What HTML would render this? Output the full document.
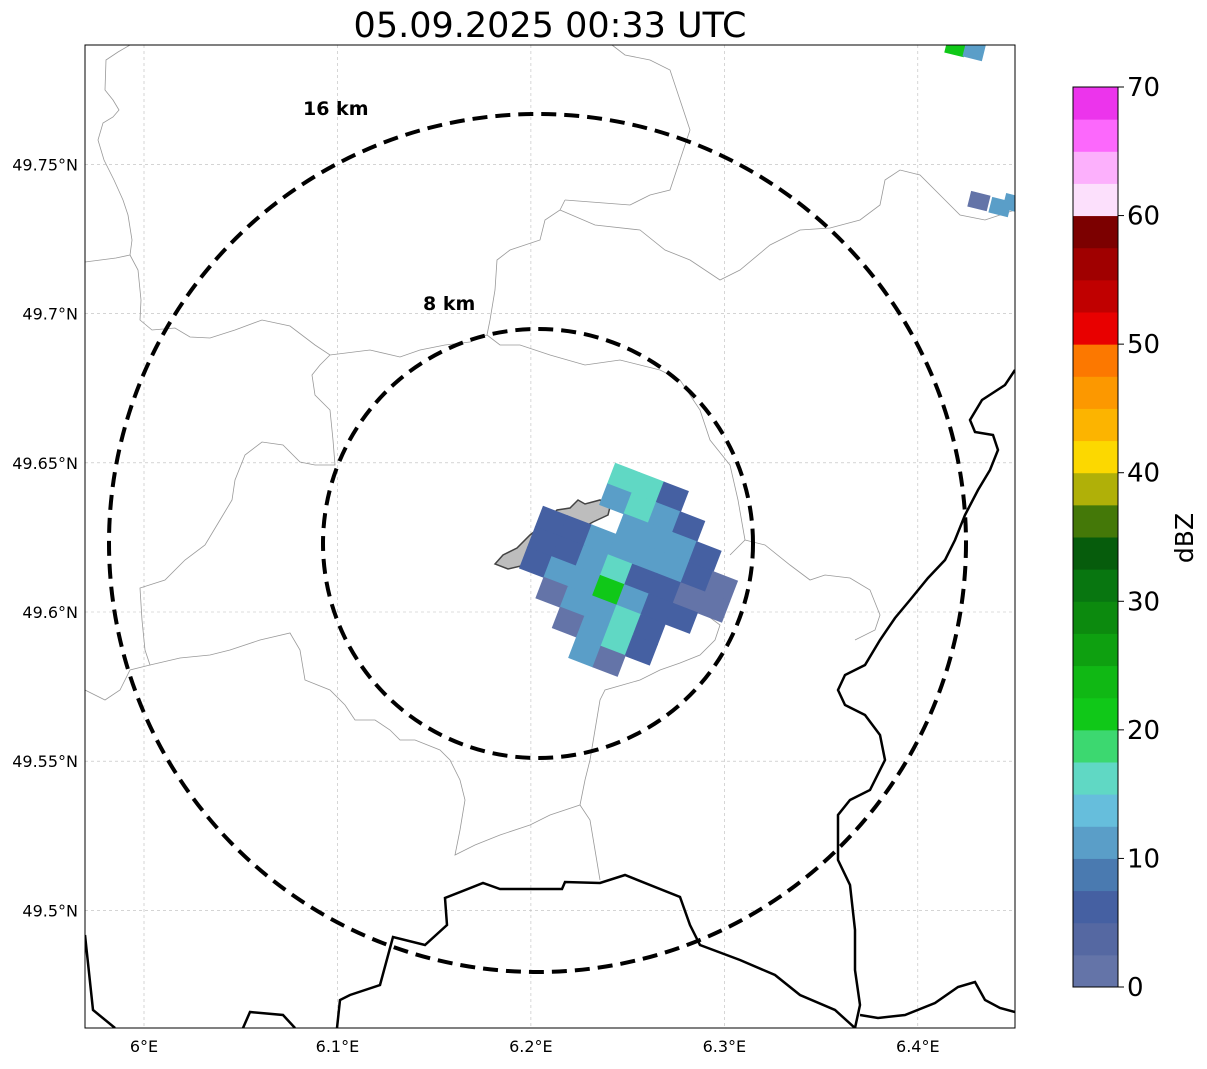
<!DOCTYPE html>
<html><head><meta charset="utf-8"><style>
body{margin:0;background:#fff;}
svg text{font-family:"DejaVu Sans","Liberation Sans",sans-serif;}
</style></head><body>
<svg id="chart" width="1207" height="1064" xmlns="http://www.w3.org/2000/svg">
<text x="550" y="37" font-size="35" text-anchor="middle">05.09.2025 00:33 UTC</text>
<defs><clipPath id="mapclip"><rect x="85" y="45" width="930" height="983"/></clipPath></defs>
<g id="map" clip-path="url(#mapclip)">
  <g id="grid"></g>
  <g fill="none" stroke="#999" stroke-width="0.8">
    <path d="M130,45 L118,52 L106,60 L105,90 L113,100 L119,110 L113,117 L103,123 L98,140 L104,160 L114,180 L123,200 L128,215 L132,240 L130,255 L116,258 L85,262"/>
    <path d="M130,255 L138,270 L141,300 L140,320 L152,330 L175,328 L190,337 L210,338 L235,330 L262,320 L290,326 L315,345 L330,355 L370,350 L400,357 L420,350 L445,345 L470,342 L487,335 L490,320 L495,290 L497,260 L510,250 L540,240 L545,220 L560,210 L565,200"/>
    <path d="M565,200 L630,205 L650,195 L670,190 L680,160 L690,130 L680,100 L670,70 L650,60 L625,55 L612,45"/>
    <path d="M560,210 L595,225 L640,230 L665,250 L690,260 L720,280 L740,270 L770,245 L800,230 L830,228 L860,220 L880,205 L885,180 L900,170 L920,175 L940,195 L960,215 L985,220 L1015,210"/>
    <path d="M330,355 L320,365 L312,375 L315,395 L330,410 L333,440 L335,465 L315,465 L300,462 L283,445 L262,442 L245,455 L235,480 L232,500 L220,520 L205,545 L185,560 L165,580 L140,588 L142,620 L145,650 L150,665 L130,670 L120,690 L105,700 L85,690"/>
    <path d="M487,335 L500,345 L520,345 L550,355 L585,365 L620,360 L660,370 L680,380 L700,410 L710,440 L730,465 L738,500 L745,540 L730,555"/>
    <path d="M745,540 L765,545 L790,565 L810,580 L825,575 L850,578 L870,590 L880,615 L875,630 L855,640"/>
    <path d="M150,665 L180,658 L210,655 L230,650 L260,640 L290,633 L300,650 L305,680 L330,690 L345,705 L355,720 L375,720 L390,730 L400,740 L415,740 L440,750 L450,760 L460,780 L465,800 L460,830 L455,855 L475,845 L500,835 L530,825 L550,815 L580,805 L590,820 L595,850 L600,880"/>
    <path d="M580,805 L585,780 L590,760 L600,700 L605,690 L640,680 L660,670 L680,663 L700,655 L715,640 L720,625 L700,610 L690,605"/>
  </g>
  <g fill="none" stroke="#000" stroke-width="2.5">
    <path d="M85,935 L93,1010 L115,1028"/>
    <path d="M243,1028 L250,1012 L283,1015 L295,1028"/>
    <path d="M337,1028 L340,1000 L350,995 L380,985 L393,937 L425,945 L447,925 L445,898 L483,883 L500,889 L562,889 L565,882 L600,883 L625,875 L680,897 L690,925 L700,945 L740,960 L775,975 L800,995 L835,1010 L855,1028"/>
    <path d="M1015,370 L1005,385 L982,400 L970,420 L975,432 L993,435 L998,450 L990,470 L978,490 L965,515 L955,540 L945,560 L928,578 L910,600 L895,618 L880,640 L865,665 L845,675 L838,690 L845,705 L865,715 L880,735 L885,760 L870,790 L850,800 L838,815 L838,860 L850,885 L855,930 L855,970 L860,1005 L855,1028"/>
    <path d="M860,1015 L878,1018 L905,1015 L935,1003 L958,987 L975,982 L985,1000 L1000,1008 L1015,1012"/>
  </g>
  <path d="M495,564 L503,555 L517,548 L530,535 L543,525 L557,510 L570,508 L578,500 L585,504 L600,500 L610,507 L608,515 L593,522 L575,532 L560,533 L553,548 L551,570 L540,567 L525,565 L508,569 Z" fill="#bdbdbd" stroke="#444" stroke-width="1.5"/>
  <g id="radar"></g>
  <g fill="none" stroke="#000" stroke-width="4" stroke-dasharray="15,8">
    <ellipse cx="537.5" cy="543" rx="428.5" ry="429"/>
    <ellipse cx="538" cy="543.5" rx="215" ry="214.5"/>
  </g>
  <text x="303" y="115" font-size="19" font-weight="bold">16 km</text>
  <text x="423" y="310" font-size="19" font-weight="bold">8 km</text>
</g>
<rect x="85" y="45" width="930" height="983" fill="none" stroke="#000" stroke-width="1"/>
<g id="axes" font-size="16"></g>
<g id="cbar"></g>
<text x="0" y="0" font-size="25" text-anchor="middle" transform="translate(1193,538) rotate(-90)">dBZ</text>
<script>
const NS='http://www.w3.org/2000/svg';
const lonTicks=[6.0,6.1,6.2,6.3,6.4];
const lonLabels=['6°E','6.1°E','6.2°E','6.3°E','6.4°E'];
const latTicks=[49.75,49.70,49.65,49.60,49.55,49.50];
const latLabels=['49.75°N','49.7°N','49.65°N','49.6°N','49.55°N','49.5°N'];
const cbarTicks=[0,10,20,30,40,50,60,70];
const cbarColors=['#6474a8','#5568a2','#4560a2','#4a7ab0','#5a9ec8','#66bedc','#60d8c4','#3cd870','#10c818','#10b814','#0ea010','#0c8a0e','#087610','#065c0c','#447808','#b0b008','#fcd800','#fcb400','#fc9800','#fc7800','#e80000','#c00000','#a00000','#7c0000','#fce0fc','#fcb0fc','#fc68fc','#ec34ec'];
// radar cells near site: grid index along beam (i), across (j), reflectivity dBZ
const cellI=[0,1,2, 0,1,2,3, 1,2,3,4, -2,-1,0,1,2,3,4,5, -2,-1,0,1,2,3,4,5, -2,-1,0,1,2,3,4, -1,0,1,2,3, 0,1,2,3, 1,2];
const cellJ=[-3,-3,-3, -2,-2,-2,-2, -1,-1,-1,-1, 0,0,0,0,0,0,0,0, 1,1,1,1,1,1,1,1, 2,2,2,2,2,2,2, 3,3,3,3,3, 4,4,4,4, 5,5];
const cellV=[17,15,5, 12,17,12,5, 12,10,12,5, 7,5,10,12,10,10,5,2, 5,7,12,15,7,5,2,2, 5,10,10,20,12,5,5, 2,12,12,17,5, 2,10,15,7, 12,2];
// distant echoes (lon, lat, dBZ)
const farLon=[6.4197,6.4291,6.4316,6.4425,6.4497];
const farLat=[49.7893,49.7880,49.7377,49.7357,49.7370];
const farV=[20,10,2,10,12];
const X=lon=>144+(lon-6)*1934.5;
const Y=lat=>612-(lat-49.6)*2984;
const CB=v=>987-v*(900/70);
function mk(tag,attrs,parent){const e=document.createElementNS(NS,tag);for(const k in attrs)e.setAttribute(k,attrs[k]);parent.appendChild(e);return e;}
const grid=document.getElementById('grid'),axes=document.getElementById('axes');
lonTicks.forEach((t,k)=>{
  const l=mk('line',{x1:X(t),x2:X(t),y1:45,y2:1028,stroke:'#bbb','stroke-width':0.6,'stroke-dasharray':'3,3'},grid);
  
  
  const tx=mk('text',{x:X(t),y:1052,'text-anchor':'middle'},axes);tx.textContent=lonLabels[k];
  
  
});
latTicks.forEach((t,k)=>{
  const l=mk('line',{x1:85,x2:1015,y1:Y(t),y2:Y(t),stroke:'#bbb','stroke-width':0.6,'stroke-dasharray':'3,3'},grid);
  
  
  const tx=mk('text',{x:78,y:Y(t)+6,'text-anchor':'end'},axes);tx.textContent=latLabels[k];
  
  
});
function colorFor(v){return cbarColors[Math.max(0,Math.min(27,Math.floor(v/2.5)))];}
const radar=document.getElementById('radar');
const ang=21*Math.PI/180,ux=Math.cos(ang),uy=Math.sin(ang),cw=26,ch=22,ox=600,oy=540;
cellI.forEach((ci,k)=>{
  const cj=cellJ[k];
  const cx=ox+ci*cw*ux-cj*ch*uy, cy=oy+ci*cw*uy+cj*ch*ux;
  const r=mk('rect',{x:-cw/2-0.5,y:-ch/2-0.5,width:cw+1,height:ch+1,fill:colorFor(cellV[k]),transform:`translate(${cx},${cy}) rotate(21)`},radar);
  
  
});
farLon.forEach((lo,k)=>{
  const r=mk('rect',{x:-10,y:-8,width:20,height:16,fill:colorFor(farV[k]),transform:`translate(${X(lo)},${Y(farLat[k])}) rotate(14)`},radar);
  
  
});
const cbar=document.getElementById('cbar');
cbarColors.forEach((c,k)=>{
  const r=mk('rect',{x:1073,y:CB((k+1)*2.5),width:45,height:CB(k*2.5)-CB((k+1)*2.5)+0.5,fill:c},cbar);
  
  
});
const fr=mk('rect',{x:1073,y:CB(70),width:45,height:CB(0)-CB(70),fill:'none',stroke:'#000','stroke-width':1},cbar);


cbarTicks.forEach(t=>{
  const l=mk('line',{x1:1118,x2:1124,y1:CB(t),y2:CB(t),stroke:'#000'},cbar);
  
  
  const tx=mk('text',{x:1127,y:CB(t)+9,'font-size':26},cbar);tx.textContent=t;
  
  
});
</script>
</svg>
</body></html>
